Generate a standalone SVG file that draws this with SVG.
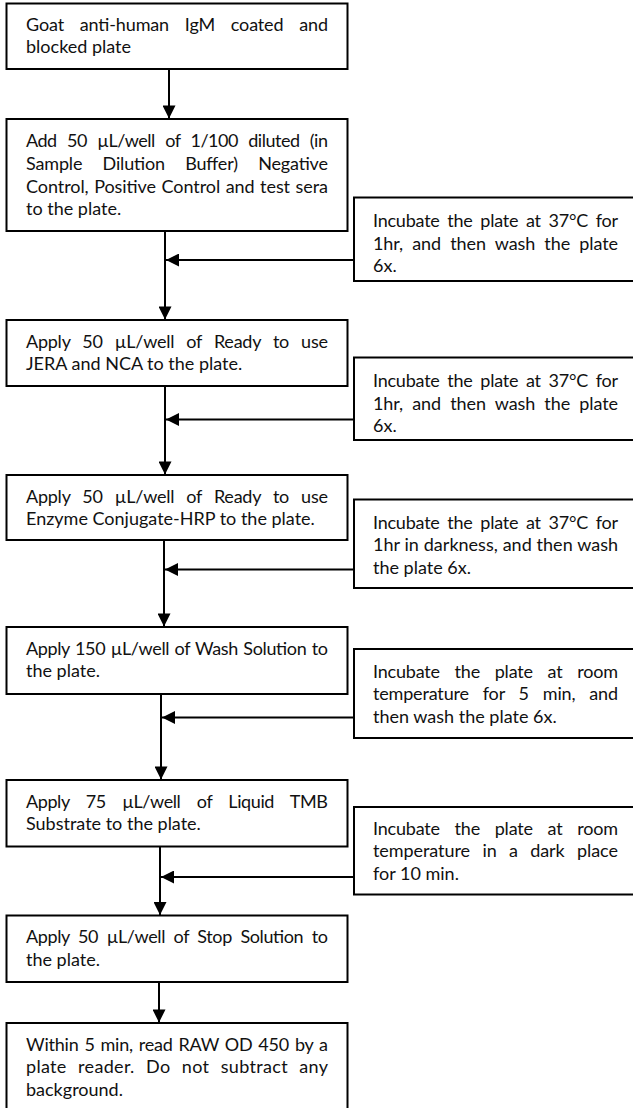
<svg xmlns="http://www.w3.org/2000/svg" width="633" height="1108" viewBox="0 0 633 1108">
<defs>
<style>
.box{fill:#fff;stroke:#000;stroke-width:2}
.t{font-family:Lato,"Open Sans","Liberation Sans",sans-serif;font-size:18px;fill:#111}
.c{stroke:#000;stroke-width:2;fill:none;marker-end:url(#ah)}
</style>
<marker id="ah" viewBox="0 0 14 14" refX="14" refY="7" markerUnits="userSpaceOnUse" markerWidth="14" markerHeight="13" orient="auto">
<path d="M0,0 L14,7 L0,14 z" fill="#000"/>
</marker>
</defs>
<rect width="633" height="1108" fill="#fff"/>
<g id="connectors">
<line class="c" x1="169" y1="69" x2="169" y2="118.5"/>
<line class="c" x1="165" y1="231" x2="165" y2="319.5"/>
<line class="c" x1="354" y1="260" x2="166" y2="260"/>
<line class="c" x1="165" y1="386" x2="165" y2="474.5"/>
<line class="c" x1="354" y1="419.5" x2="166" y2="419.5"/>
<line class="c" x1="164" y1="540" x2="164" y2="626.5"/>
<line class="c" x1="354" y1="569.5" x2="165" y2="569.5"/>
<line class="c" x1="161" y1="694" x2="161" y2="779.5"/>
<line class="c" x1="354" y1="717.5" x2="162" y2="717.5"/>
<line class="c" x1="160" y1="846.5" x2="160" y2="915"/>
<line class="c" x1="354" y1="877" x2="161" y2="877"/>
<line class="c" x1="159" y1="982" x2="159" y2="1022.5"/>
</g>
<g id="box1">
<rect class="box" x="6.5" y="3.5" width="341" height="65.5"/>
<text class="t" x="26" y="30.7" style="word-spacing:11.3px" textLength="302" lengthAdjust="spacing">Goat anti-human IgM coated and</text>
<text class="t" x="26" y="53.4">blocked plate</text>
</g>
<g id="box2">
<rect class="box" x="6.5" y="119" width="341" height="112"/>
<text class="t" x="26" y="147.3" style="word-spacing:6.2px" textLength="302" lengthAdjust="spacing">Add 50 µL/well of 1/100 diluted (in</text>
<text class="t" x="26" y="170" style="word-spacing:15.8px" textLength="302" lengthAdjust="spacing">Sample Dilution Buffer) Negative</text>
<text class="t" x="26" y="192.7" style="word-spacing:1px" textLength="302" lengthAdjust="spacing">Control, Positive Control and test sera</text>
<text class="t" x="26" y="215.4">to the plate.</text>
</g>
<g id="side1">
<rect class="box" x="354" y="197.5" width="290" height="83.5"/>
<text class="t" x="373" y="226.8" style="word-spacing:3.3px" textLength="245" lengthAdjust="spacing">Incubate the plate at 37°C for</text>
<text class="t" x="373" y="249.5" style="word-spacing:4.7px" textLength="245" lengthAdjust="spacing">1hr, and then wash the plate</text>
<text class="t" x="373" y="272.2">6x.</text>
</g>
<g id="box3">
<rect class="box" x="6.5" y="320" width="341" height="66"/>
<text class="t" x="26" y="347.7" style="word-spacing:7.7px" textLength="302" lengthAdjust="spacing">Apply 50 µL/well of Ready to use</text>
<text class="t" x="26" y="370.4">JERA and NCA to the plate.</text>
</g>
<g id="side2">
<rect class="box" x="354" y="357.5" width="290" height="82.5"/>
<text class="t" x="373" y="386.8" style="word-spacing:3.3px" textLength="245" lengthAdjust="spacing">Incubate the plate at 37°C for</text>
<text class="t" x="373" y="409.5" style="word-spacing:4.7px" textLength="245" lengthAdjust="spacing">1hr, and then wash the plate</text>
<text class="t" x="373" y="432.2">6x.</text>
</g>
<g id="box4">
<rect class="box" x="6.5" y="475" width="341" height="65"/>
<text class="t" x="26" y="502.5" style="word-spacing:7.7px" textLength="302" lengthAdjust="spacing">Apply 50 µL/well of Ready to use</text>
<text class="t" x="26" y="525.2">Enzyme Conjugate-HRP to the plate.</text>
</g>
<g id="side3">
<rect class="box" x="354" y="499.5" width="290" height="88.5"/>
<text class="t" x="373" y="528.5" style="word-spacing:3.3px" textLength="245" lengthAdjust="spacing">Incubate the plate at 37°C for</text>
<text class="t" x="373" y="551.2" style="word-spacing:0.2px" textLength="245" lengthAdjust="spacing">1hr in darkness, and then wash</text>
<text class="t" x="373" y="573.9">the plate 6x.</text>
</g>
<g id="box5">
<rect class="box" x="6.5" y="627" width="341" height="67"/>
<text class="t" x="26" y="654.5" style="word-spacing:1.2px" textLength="302" lengthAdjust="spacing">Apply 150 µL/well of Wash Solution to</text>
<text class="t" x="26" y="677.2">the plate.</text>
</g>
<g id="side4">
<rect class="box" x="354" y="649" width="290" height="89"/>
<text class="t" x="373" y="677.5" style="word-spacing:10.3px" textLength="245" lengthAdjust="spacing">Incubate the plate at room</text>
<text class="t" x="373" y="700.2" style="word-spacing:9.5px" textLength="245" lengthAdjust="spacing">temperature for 5 min, and</text>
<text class="t" x="373" y="722.9">then wash the plate 6x.</text>
</g>
<g id="box6">
<rect class="box" x="6.5" y="780" width="341" height="66.5"/>
<text class="t" x="26" y="807.5" style="word-spacing:12.2px" textLength="302" lengthAdjust="spacing">Apply 75 µL/well of Liquid TMB</text>
<text class="t" x="26" y="830.2">Substrate to the plate.</text>
</g>
<g id="side5">
<rect class="box" x="354" y="807" width="290" height="87.5"/>
<text class="t" x="373" y="834.5" style="word-spacing:10.3px" textLength="245" lengthAdjust="spacing">Incubate the plate at room</text>
<text class="t" x="373" y="857.2" style="word-spacing:7.8px" textLength="245" lengthAdjust="spacing">temperature in a dark place</text>
<text class="t" x="373" y="879.9">for 10 min.</text>
</g>
<g id="box7">
<rect class="box" x="6.5" y="915.5" width="341" height="66.5"/>
<text class="t" x="26" y="943" style="word-spacing:4.3px" textLength="302" lengthAdjust="spacing">Apply 50 µL/well of Stop Solution to</text>
<text class="t" x="26" y="965.7">the plate.</text>
</g>
<g id="box8">
<rect class="box" x="6.5" y="1023" width="341" height="100"/>
<text class="t" x="26" y="1050.7" style="word-spacing:1.4px" textLength="302" lengthAdjust="spacing">Within 5 min, read RAW OD 450 by a</text>
<text class="t" x="26" y="1073.4" style="word-spacing:6.5px" textLength="302" lengthAdjust="spacing">plate reader. Do not subtract any</text>
<text class="t" x="26" y="1096.1">background.</text>
</g>
</svg>
